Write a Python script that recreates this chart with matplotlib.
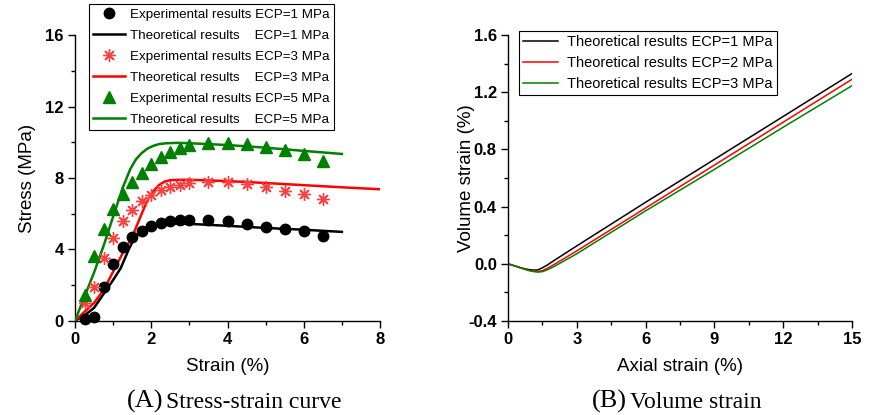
import matplotlib
matplotlib.use("Agg")
import matplotlib.pyplot as plt
from matplotlib.ticker import MultipleLocator, FormatStrFormatter

plt.rcParams['font.family'] = ['Liberation Sans', 'DejaVu Sans']

# ---- (A) stress-strain data ----
exp_x = [0.25, 0.5, 0.75, 1.0, 1.25, 1.5, 1.75, 2.0, 2.25, 2.5, 2.75, 3.0,
         3.5, 4.0, 4.5, 5.0, 5.5, 6.0, 6.5]
exp_ecp1 = [0.12, 0.2, 1.87, 3.16, 4.12, 4.68, 5.05, 5.31, 5.5, 5.6, 5.65, 5.67,
            5.65, 5.57, 5.44, 5.27, 5.14, 5.01, 4.77]
exp_ecp3 = [1.0, 1.9, 3.53, 4.66, 5.61, 6.21, 6.73, 7.05, 7.33, 7.52, 7.63, 7.7,
            7.76, 7.76, 7.68, 7.48, 7.27, 7.1, 6.82]
exp_ecp5 = [1.44, 3.63, 5.14, 6.25, 7.1, 7.76, 8.3, 8.79, 9.2, 9.46, 9.7, 9.85,
            9.95, 9.95, 9.89, 9.76, 9.57, 9.33, 8.97]

th1_x = [0.0, 0.25, 0.5, 0.75, 1.0, 1.2, 1.4, 1.55, 1.7, 1.85, 2.0, 2.2, 2.5,
         3.0, 4.0, 5.0, 6.0, 7.0]
th_ecp1 = [0.0, 0.3, 0.72, 1.5, 2.28, 2.95, 3.95, 4.6, 4.95, 5.2, 5.33, 5.42, 5.45,
           5.43, 5.32, 5.2, 5.1, 4.98]
th3_x = [0.0, 0.25, 0.5, 0.75, 1.0, 1.25, 1.5, 1.75, 1.9, 2.05, 2.2, 2.35, 2.5,
         2.75, 3.0, 4.0, 5.0, 6.0, 7.0, 8.0]
th_ecp3 = [0.0, 0.5, 1.0, 1.72, 2.75, 3.78, 4.7, 6.0, 6.75, 7.25, 7.6, 7.8, 7.88,
           7.9, 7.9, 7.83, 7.72, 7.6, 7.48, 7.37]
th5_x = [0.0, 0.25, 0.5, 0.75, 1.0, 1.25, 1.45, 1.6, 1.75, 1.9, 2.05, 2.2, 2.4,
         2.7, 3.0, 4.0, 5.0, 6.0, 7.0]
th_ecp5 = [0.0, 1.35, 2.7, 4.2, 5.83, 7.45, 8.5, 9.05, 9.4, 9.65, 9.8, 9.9, 9.95,
           9.97, 9.95, 9.85, 9.7, 9.52, 9.35]

# ---- (B) volume strain data ----
vol_x = [0.0, 0.3, 0.6, 0.9, 1.1, 1.3, 1.5, 1.7, 2.0, 3.0, 6.0, 9.0, 12.0, 15.0]
vol_ecp1 = [0.0, -0.015, -0.03, -0.04, -0.044, -0.043, -0.028, -0.01, 0.022, 0.125,
            0.43, 0.73, 1.03, 1.33]
vol_ecp2 = [0.0, -0.015, -0.03, -0.045, -0.051, -0.054, -0.048, -0.033, -0.006, 0.09,
            0.39, 0.69, 0.99, 1.29]
vol_ecp3 = [0.0, -0.015, -0.032, -0.047, -0.054, -0.058, -0.055, -0.043, -0.02, 0.07,
            0.37, 0.66, 0.955, 1.245]

fig = plt.figure(figsize=(8.71, 4.15), dpi=100)
ax1 = fig.add_axes([0.0861, 0.2272, 0.3502, 0.6877])
ax2 = fig.add_axes([0.5832, 0.2265, 0.3949, 0.6892])


def style_axes(ax):
    for side in ('top', 'right'):
        ax.spines[side].set_visible(False)
    for side in ('left', 'bottom'):
        ax.spines[side].set_linewidth(1.0)
    ax.tick_params(which='major', direction='out', length=5, width=1, pad=3)
    ax.tick_params(which='minor', direction='out', length=3, width=1)
    for lab in ax.get_xticklabels() + ax.get_yticklabels():
        lab.set_fontsize(12)
        lab.set_fontweight('bold')


red_marker = (8, 2, 0)

ax1.plot(exp_x, exp_ecp1, 'o', color='black', markersize=7.5, clip_on=False, zorder=4,
         label='Experimental results ECP=1 MPa')
ax1.plot(th1_x, th_ecp1, '-', color='black', linewidth=1.8, zorder=3,
         label='Theoretical results    ECP=1 MPa')
ax1.plot(exp_x, exp_ecp3, linestyle='none', marker=red_marker, color='#ff4040',
         markersize=9, markeredgewidth=1.0, zorder=4,
         label='Experimental results ECP=3 MPa')
ax1.plot(th3_x, th_ecp3, '-', color='#ff0000', linewidth=1.8, zorder=3,
         label='Theoretical results    ECP=3 MPa')
ax1.plot(exp_x, exp_ecp5, '^', color='#008000', markersize=8.5, zorder=4,
         label='Experimental results ECP=5 MPa')
ax1.plot(th5_x, th_ecp5, '-', color='#008000', linewidth=1.8, zorder=3,
         label='Theoretical results    ECP=5 MPa')

ax1.set_xlim(0, 8)
ax1.set_ylim(0, 16)
ax1.xaxis.set_major_locator(MultipleLocator(2))
ax1.xaxis.set_minor_locator(MultipleLocator(1))
ax1.yaxis.set_major_locator(MultipleLocator(4))
ax1.yaxis.set_minor_locator(MultipleLocator(2))
ax1.set_xlabel('Strain (%)', fontsize=13.5, labelpad=8)
ax1.set_ylabel('Stress (MPa)', fontsize=13.5, labelpad=7)
style_axes(ax1)

leg1 = ax1.legend(loc='upper left', bbox_to_anchor=(0.045, 1.108), fontsize=9.6,
                  frameon=True, fancybox=False, edgecolor='black', framealpha=1,
                  borderaxespad=0, labelspacing=0.65, handlelength=2.4,
                  handletextpad=0.4, borderpad=0.3)
leg1.get_frame().set_linewidth(0.8)

ax2.plot(vol_x, vol_ecp1, '-', color='black', linewidth=1.1, label='Theoretical results ECP=1 MPa')
ax2.plot(vol_x, vol_ecp2, '-', color='#ff0000', linewidth=1.1, label='Theoretical results ECP=2 MPa')
ax2.plot(vol_x, vol_ecp3, '-', color='#008000', linewidth=1.1, label='Theoretical results ECP=3 MPa')
ax2.set_xlim(0, 15)
ax2.set_ylim(-0.4, 1.6)
ax2.xaxis.set_major_locator(MultipleLocator(3))
ax2.xaxis.set_minor_locator(MultipleLocator(1.5))
ax2.yaxis.set_major_locator(MultipleLocator(0.4))
ax2.yaxis.set_minor_locator(MultipleLocator(0.2))
ax2.yaxis.set_major_formatter(FormatStrFormatter('%.1f'))
ax2.set_xlabel('Axial strain (%)', fontsize=13.5, labelpad=8)
ax2.set_ylabel('Volume strain (%)', fontsize=13.5, labelpad=-5)
style_axes(ax2)

leg2 = ax2.legend(loc='upper left', bbox_to_anchor=(0.032, 1.014), fontsize=10.5,
                  frameon=True, fancybox=False, edgecolor='black', framealpha=1,
                  borderaxespad=0, labelspacing=0.46, handlelength=2.4,
                  handletextpad=0.6, borderpad=0.3)
leg2.get_frame().set_linewidth(0.8)

# captions
serif = ['Liberation Serif', 'DejaVu Serif']
fig.text(163 / 871, 0.018, '(A)', family=serif, fontsize=19, ha='right', va='baseline')
fig.text(166 / 871, 0.018, 'Stress-strain curve', family=serif, fontsize=17, ha='left', va='baseline')
fig.text(627 / 871, 0.018, '(B)', family=serif, fontsize=19, ha='right', va='baseline')
fig.text(630 / 871, 0.018, 'Volume strain', family=serif, fontsize=17, ha='left', va='baseline')

fig.savefig('out.png', dpi=100)
